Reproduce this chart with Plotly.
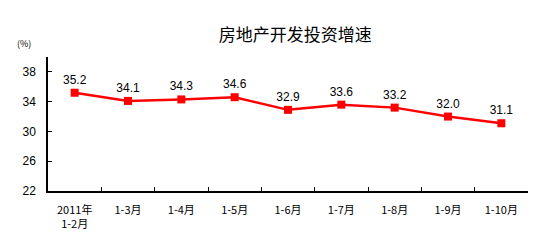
import plotly.graph_objects as go

categories = ["2011年<br>1-2月", "1-3月", "1-4月", "1-5月", "1-6月", "1-7月", "1-8月", "1-9月", "1-10月"]
values = [35.2, 34.1, 34.3, 34.6, 32.9, 33.6, 33.2, 32.0, 31.1]
labels = ["35.2", "34.1", "34.3", "34.6", "32.9", "33.6", "33.2", "32.0", "31.1"]
y_ticks = [22, 26, 30, 34, 38]

fig = go.Figure()
fig.add_trace(go.Scatter(
    x=categories, y=values, mode="lines+markers+text",
    text=labels, textposition="top center",
    textfont=dict(family="Liberation Sans, Arial", size=12, color="#000"),
    line=dict(color="#ff0000", width=2.5),
    marker=dict(symbol="square", size=8, color="#ff0000"),
    cliponaxis=False,
))

fig.update_layout(
    width=554, height=240,
    margin=dict(l=48, r=26, t=57, b=49),
    paper_bgcolor="white", plot_bgcolor="white",
    showlegend=False,
    title=dict(text="房地产开发投资增速", x=0.533, xanchor="center", y=0.855, yanchor="middle",
               font=dict(family="Noto Sans CJK SC", size=17, color="#000")),
    annotations=[dict(text="(%)", xref="paper", yref="paper", x=-0.05, y=1.10,
                      xanchor="center", yanchor="middle", showarrow=False,
                      font=dict(family="Noto Sans CJK SC", size=9, color="#000"))],
)
fig.update_xaxes(
    type="category", tickson="boundaries", ticks="inside", ticklen=4, tickcolor="#000",
    showline=True, linecolor="#000", linewidth=1.5, showgrid=False,
    tickfont=dict(family="Noto Sans CJK SC", size=11, color="#000"),
    ticklabelstandoff=8, automargin=False,
    range=[-0.5, 8.5],
)
fig.update_yaxes(
    range=[22, 40], tickvals=y_ticks, ticks="inside", ticklen=4, tickcolor="#000",
    showline=True, linecolor="#000", linewidth=1.5, showgrid=False, zeroline=False,
    tickfont=dict(family="Liberation Sans, Arial", size=12, color="#000"),
    ticklabelstandoff=8, automargin=False,
)

fig.write_html("out.html")
